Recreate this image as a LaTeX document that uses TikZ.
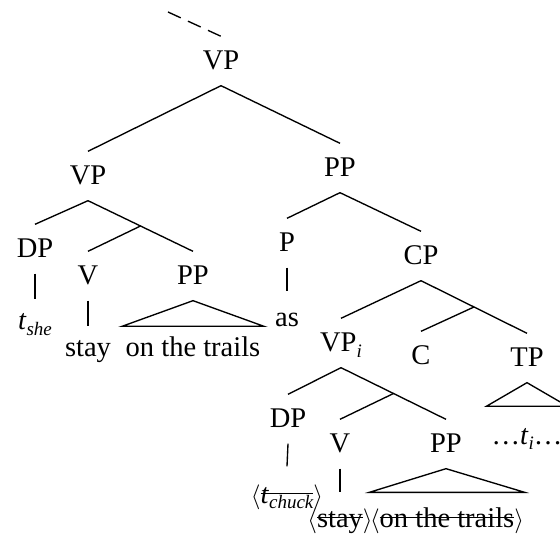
\documentclass[tikz,border=0pt]{standalone}
\usepackage{fontspec}
\setmainfont{Liberation Serif}
\usetikzlibrary{calc}
% italic subscript set a little below the baseline
\newcommand\lowsub[1]{\raisebox{-0.21em}{\fontsize{19}{19}\selectfont\itshape #1}}
% struck-out material (deleted copy)
\newcommand\strk[1]{\setbox0\hbox{#1}\rlap{\rule[0.32em]{\wd0}{1.1pt}}\box0}
\begin{document}
\begin{tikzpicture}[x=1pt,y=-1pt,line width=1.35pt,
  every node/.style={inner sep=0pt,font=\fontsize{28.5}{34}\selectfont},
  cat/.style={anchor=base,text height=33pt,text depth=15pt},
  leaf/.style={anchor=base,text depth=0pt}]
\clip (0,0) rectangle (560,537);

% category labels
\node[cat] (vp0) at (221,70) {VP};
\node[cat] (vp1) at (88,185) {VP};
\node[cat] (pp1) at (340,177) {PP};
\node[cat] (dp1) at (35,258) {DP};
\node[cat] (v1) at (88,285) {V};
\node[cat] (pp2) at (193,285) {PP};
\node[cat] (p1) at (287,252) {P};
\node[cat] (cp) at (421,265) {CP};
\node[cat] (vpi) at (341,352) {VP\lowsub{i}};
\node[cat] (c) at (421,365) {C};
\node[cat] (tp) at (527,367) {TP};
\node[cat] (dp2) at (288,428) {DP};
\node[cat] (v2) at (340,453) {V};
\node[cat] (pp3) at (446,453) {PP};

% terminal strings
\node[leaf,text height=30pt] (tshe) at (35,330) {\textit{t}\lowsub{she}};
\node[leaf,text height=30pt] (stay1) at (88,357) {stay};
\node[leaf,text height=30pt,inner xsep=3pt] (trails1) at (193,357) {on the trails};
\node[leaf,text height=35pt] (as) at (287,327) {as};
\node[leaf,text height=37pt,minimum width=80pt] (ti) at (527,444) {\ldots\textit{t}\lowsub{i}\ldots};
\node[leaf,text height=36pt] (tchuck) at (287,503) {$\langle$\strk{\textit{t}\lowsub{chuck}}$\rangle$};
\node[leaf,text height=34pt] (stay2) at (340,527) {$\langle$\strk{stay}$\rangle$};
\node[leaf,text height=34pt] (trails2) at (447,527) {$\langle$\strk{on the trails}$\rangle$};

% continuation above the root
\coordinate (lead) at (168,12);
\draw[dash pattern=on 14pt off 8pt] (lead) -- (vp0.north);

% branches
\draw (vp0.south) -- (vp1.north);
\draw (vp0.south) -- (pp1.north);

\draw (vp1.south) -- (dp1.north);
\draw (vp1.south) -- (pp2.north);
\draw ($(vp1.south)!.5!(pp2.north)$) -- (v1.north);
\draw (dp1.south) -- (tshe.north);
\draw (v1.south) -- (stay1.north);
\draw (pp2.south) -- (trails1.north west) -- (trails1.north east) -- cycle;

\draw (pp1.south) -- (p1.north);
\draw (pp1.south) -- (cp.north);
\draw (p1.south) -- (as.north);

\draw (cp.south) -- (vpi.north);
\draw (cp.south) -- (tp.north);
\draw ($(cp.south)!.5!(tp.north)$) -- (c.north);
\draw (tp.south) -- (ti.north west) -- (ti.north east) -- cycle;

\draw (vpi.south) -- (dp2.north);
\draw (vpi.south) -- (pp3.north);
\draw ($(vpi.south)!.5!(pp3.north)$) -- (v2.north);
\draw (dp2.south) -- (tchuck.north);
\draw (v2.south) -- (stay2.north);
\draw (pp3.south) -- (trails2.north west) -- (trails2.north east) -- cycle;
\end{tikzpicture}
\end{document}
